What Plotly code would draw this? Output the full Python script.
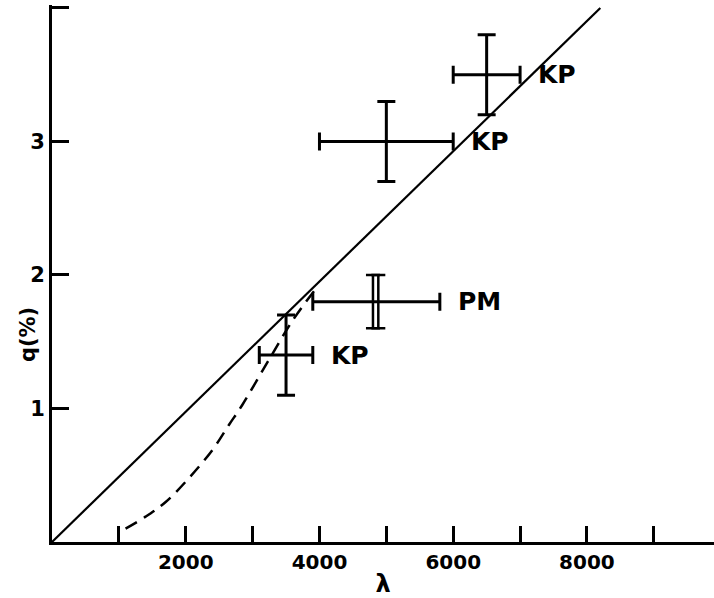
import plotly.graph_objects as go

# ---- data ----
line_x = [0, 8200]
line_y = [0.0, 4.0]

dash_x = [1100, 1400, 1700, 2050, 2400, 2650, 2850, 3250, 3600, 3950]
dash_y = [0.10, 0.19, 0.30, 0.48, 0.69, 0.88, 1.03, 1.37, 1.66, 1.90]

kp_x = [3500, 5000, 6500]
kp_y = [1.4, 3.0, 3.5]
kp_x_lo = [3100, 4000, 6000]
kp_x_hi = [3900, 6000, 7000]
kp_y_lo = [1.1, 2.7, 3.2]
kp_y_hi = [1.7, 3.3, 3.8]
kp_label = ["KP", "KP", "KP"]

pm_x = [4850]
pm_y = [1.8]
pm_x_lo = [3900]
pm_x_hi = [5800]
pm_y_lo = [1.6]
pm_y_hi = [2.0]
pm_bar_x = [4800, 4880]   # the double vertical bar of the PM point
pm_label = ["PM"]

x_ticks = [1000, 2000, 3000, 4000, 5000, 6000, 7000, 8000, 9000]
x_ticktext = ["", "2000", "", "4000", "", "6000", "", "8000", ""]
y_ticks = [1, 2, 3, 4]
y_ticktext = ["1", "2", "3", ""]

FONT = "DejaVu Sans"
fig = go.Figure()

fig.add_trace(go.Scatter(x=line_x, y=line_y, mode="lines",
                         line=dict(color="black", width=2.2), showlegend=False))
fig.add_trace(go.Scatter(x=dash_x, y=dash_y, mode="lines",
                         line=dict(color="black", width=2.5, dash="13px,8px", shape="spline"),
                         showlegend=False))

# KP points
fig.add_trace(go.Scatter(
    x=kp_x, y=kp_y, mode="markers", marker=dict(size=0, opacity=0, color="black"),
    error_x=dict(type="data", symmetric=False,
                 array=[h - c for h, c in zip(kp_x_hi, kp_x)],
                 arrayminus=[c - l for c, l in zip(kp_x, kp_x_lo)],
                 color="black", thickness=3, width=9),
    error_y=dict(type="data", symmetric=False,
                 array=[h - c for h, c in zip(kp_y_hi, kp_y)],
                 arrayminus=[c - l for c, l in zip(kp_y, kp_y_lo)],
                 color="black", thickness=3, width=9),
    showlegend=False))

# PM point: horizontal bar
fig.add_trace(go.Scatter(
    x=pm_x, y=pm_y, mode="markers", marker=dict(size=0, opacity=0, color="black"),
    error_x=dict(type="data", symmetric=False,
                 array=[pm_x_hi[0] - pm_x[0]], arrayminus=[pm_x[0] - pm_x_lo[0]],
                 color="black", thickness=3, width=9),
    showlegend=False))
# PM point: double vertical bar
fig.add_trace(go.Scatter(
    x=pm_bar_x, y=[pm_y[0]] * len(pm_bar_x), mode="markers",
    marker=dict(size=0, opacity=0, color="black"),
    error_y=dict(type="data", symmetric=False,
                 array=[pm_y_hi[0] - pm_y[0]] * len(pm_bar_x),
                 arrayminus=[pm_y[0] - pm_y_lo[0]] * len(pm_bar_x),
                 color="black", thickness=2.5, width=7),
    showlegend=False))

annotations = []
for xh, yc, t in zip(kp_x_hi + pm_x_hi, kp_y + pm_y, kp_label + pm_label):
    annotations.append(dict(x=xh, y=yc, xref="x", yref="y", text=t, showarrow=False,
                            xanchor="left", yanchor="middle", xshift=16,
                            font=dict(family=FONT, size=25, color="black", weight="bold")))
annotations.append(dict(x=0, y=1.55, xref="paper", yref="y", text="q(%)", showarrow=False,
                        textangle=-90, xanchor="center", yanchor="middle", xshift=-24,
                        font=dict(family=FONT, size=21, color="black", weight="bold")))

fig.update_layout(
    width=714, height=598,
    margin=dict(l=52, r=0, t=5, b=56, autoexpand=False),
    paper_bgcolor="white", plot_bgcolor="white",
    showlegend=False,
    annotations=annotations,
    xaxis=dict(range=[0, 9900], tickvals=x_ticks, ticktext=x_ticktext,
               ticks="inside", ticklen=16, tickwidth=2.5, tickcolor="black",
               showline=True, linewidth=3, linecolor="black",
               showgrid=False, zeroline=False, automargin=False,
               tickfont=dict(family=FONT, size=20, color="black", weight="bold"),
               title=dict(text="λ", font=dict(family=FONT, size=24, color="black", weight="bold"),
                          standoff=13)),
    yaxis=dict(range=[0, 4.022], tickvals=y_ticks, ticktext=y_ticktext,
               ticks="inside", ticklen=17, tickwidth=3, tickcolor="black",
               showline=True, linewidth=3, linecolor="black",
               showgrid=False, zeroline=False, automargin=False,
               tickfont=dict(family=FONT, size=21, color="black", weight="bold")),
)

fig.write_html("out.html", config={"displayModeBar": False},
               post_script="document.body.style.margin='0';")
